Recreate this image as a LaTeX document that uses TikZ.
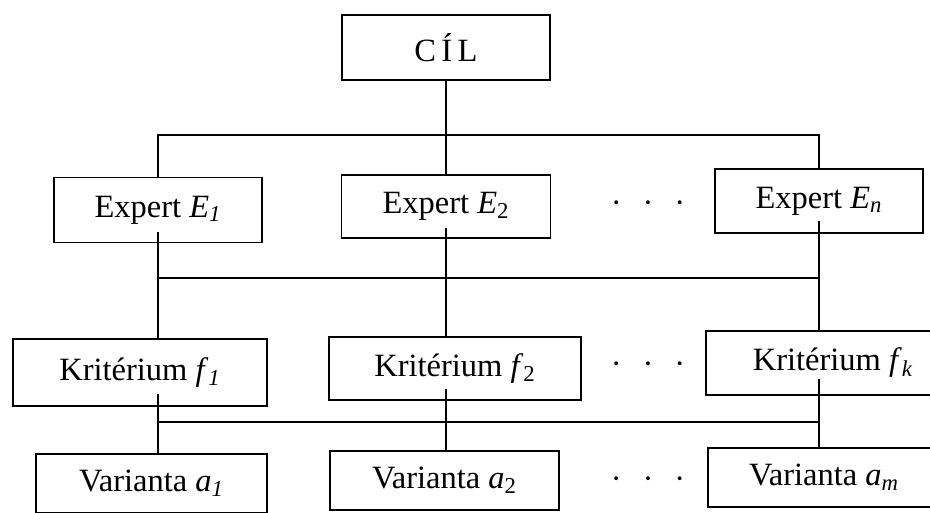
\documentclass[tikz,border=0pt]{standalone}
\usepackage{fontspec}
\setmainfont{Liberation Serif}
\usetikzlibrary{positioning,calc}

\begin{document}
\begin{tikzpicture}[
    x=0.02cm, y=-0.02cm,
    line width=1.1pt,
    levelbox/.style={rectangle, draw=black, fill=white, inner sep=0pt,
                     minimum width=#1, minimum height=1.3cm, align=center,
                     font=\fontsize{18.5}{22}\selectfont},
    variantbox/.style={levelbox=#1, minimum height=1.18cm},
    dotsrow/.style={inner sep=0pt, font=\fontsize{18.5}{22}\selectfont},
    link/.style={draw=black, line width=1.1pt}
]
\useasboundingbox (0,0) rectangle (930,513);
\clip (0,0) rectangle (930,513);

% Cil
\node[levelbox=4.16cm] (cil) at (446,47.5) {C\,Í\,L};

% Experti
\node[levelbox=4.16cm] (e1) at (158,210) {Expert \textit{E}\textsubscript{\textit{1}}};
\node[levelbox=4.18cm, minimum height=1.26cm] (e2) at (446,206.5) {Expert \textit{E}\textsubscript{2}};
\node[levelbox=4.16cm, minimum height=1.28cm] (en) at (819,201) {Expert \textit{E}\textsubscript{\textit{n}}};
\node[dotsrow] (dotsE) at (648,207) {·\hspace{0.42cm}·\hspace{0.42cm}·};

% Kriteria
\node[levelbox=5.08cm, minimum height=1.34cm] (k1) at (140,372.5) {Kritérium \textit{f}\textsubscript{\textit{1}}};
\node[levelbox=5.04cm, minimum height=1.26cm] (k2) at (455,368.5) {Kritérium \textit{f}\textsubscript{2}};
\node[levelbox=5.08cm, minimum height=1.28cm] (kk) at (833,363) {Kritérium \textit{f}\textsubscript{\textit{k}}};
\node[dotsrow] (dotsK) at (648,368) {·\hspace{0.42cm}·\hspace{0.42cm}·};

% Varianty
\node[variantbox=4.62cm] (v1) at (151.5,483.5) {Varianta \textit{a}\textsubscript{\textit{1}}};
\node[variantbox=4.58cm] (v2) at (444.5,480.5) {Varianta \textit{a}\textsubscript{2}};
\node[variantbox=4.64cm] (vm) at (824,477.5) {Varianta \textit{a}\textsubscript{\textit{m}}};
\node[dotsrow] (dotsV) at (648,483) {·\hspace{0.42cm}·\hspace{0.42cm}·};

% sbernice
\coordinate (bus1) at (0,135);
\coordinate (bus2) at (0,278);
\coordinate (bus3) at (0,422);

% spojnice cil - experti
\draw[link] (cil.south) -- (e2.north);
\draw[link] (e1.north) -- (e1.north |- bus1) -- (en.north |- bus1) -- (en.north);

% spojnice experti - kriteria
\draw[link] ([yshift=0.22cm]e1.south) -- (e1.south |- k1.north);
\draw[link] ([yshift=0.22cm]e2.south) -- (e2.south |- k2.north);
\draw[link] ([yshift=0.26cm]en.south) -- (en.south |- kk.north);
\draw[link] (e1.south |- bus2) -- (en.south |- bus2);

% spojnice kriteria - varianty
\draw[link] ([yshift=0.26cm]k1.south -| e1.south) -- (e1.south |- v1.north);
\draw[link] ([yshift=0.24cm]k2.south -| e2.south) -- (e2.south |- v2.north);
\draw[link] ([yshift=0.34cm]kk.south -| en.south) -- (en.south |- vm.north);
\draw[link] (e1.south |- bus3) -- (en.south |- bus3);

\end{tikzpicture}
\end{document}
